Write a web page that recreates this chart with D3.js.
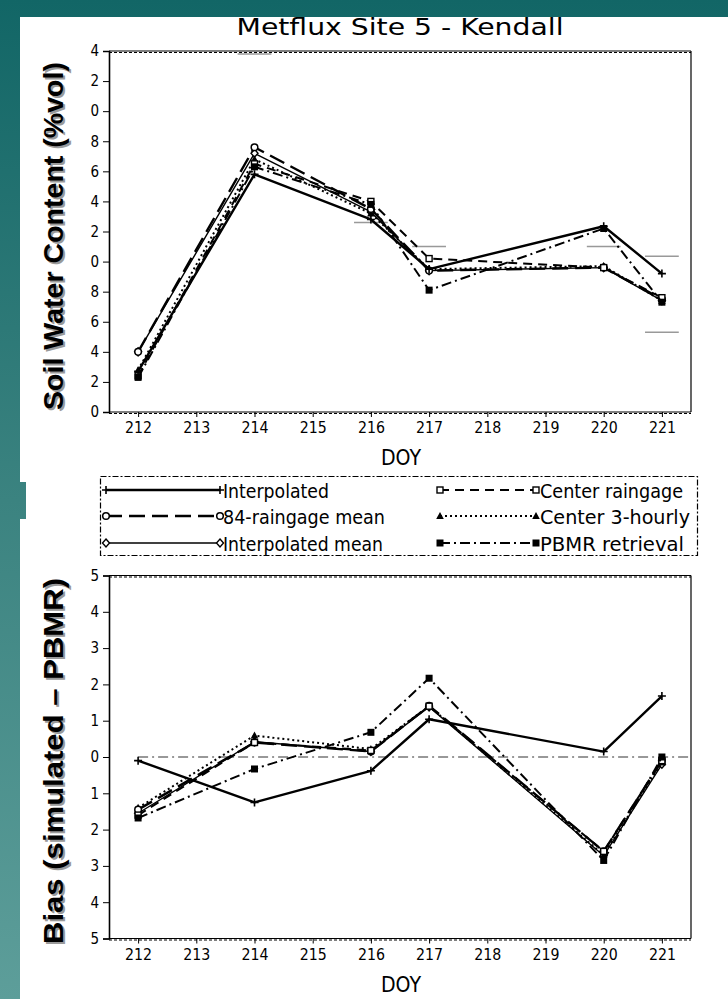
<!DOCTYPE html>
<html><head><meta charset="utf-8">
<script src="https://cdn.jsdelivr.net/npm/d3@7"></script>
<style>html,body{margin:0;padding:0;background:#fff;overflow:hidden}</style>
</head><body>
<svg id="c" width="728" height="999"></svg>
<script>
// ---------------- DATA ----------------
const days = [212, 214, 216, 217, 220, 221];
const doyTicks = [212, 213, 214, 215, 216, 217, 218, 219, 220, 221];
const seriesNames = ["Interpolated", "Center raingage", "84-raingage mean", "Center 3-hourly", "Interpolated mean", "PBMR retrieval"];

// Soil water content (%vol), top panel
const swcInterpolated     = [22.7, 35.8, 32.8, 29.5, 32.35, 29.2];
const swcCenterRaingage   = [22.4, 36.5, 34.0, 30.2, 29.6, 27.6];
const swc84RaingageMean   = [24.0, 37.6, 33.5, 29.4, 29.6, 27.5];
const swcCenter3Hourly    = [22.8, 36.8, 33.2, 29.5, 29.7, 27.4];
const swcInterpolatedMean = [24.0, 37.2, 33.3, 29.4, 29.6, 27.4];
const swcPBMR             = [22.3, 36.3, 33.8, 28.1, 32.2, 27.3];
const obsDays   = [214, 216, 217, 220, 221, 221];
const obsValues = [43.8, 32.6, 31.0, 31.0, 30.35, 25.3];
const swcTicks      = [20, 22, 24, 26, 28, 30, 32, 34, 36, 38, 40, 42, 44];
const swcTickLabels = ["0", "2", "4", "6", "8", "0", "2", "4", "6", "8", "0", "2", "4"];

// Bias (simulated - PBMR), bottom panel
const biasInterpolated     = [-0.10, -1.25, -0.38, 1.04, 0.15, 1.68];
const biasCenterRaingage   = [-1.60, 0.40, 0.18, 1.40, -2.60, -0.10];
const bias84RaingageMean   = [-1.45, 0.40, 0.15, 1.41, -2.60, -0.10];
const biasCenter3Hourly    = [-1.40, 0.59, 0.22, 1.40, -2.70, -0.15];
const biasInterpolatedMean = [-1.55, 0.42, 0.15, 1.38, -2.72, -0.20];
const biasPBMR             = [-1.68, -0.33, 0.68, 2.17, -2.85, 0.00];
const biasTicks      = [-5, -4, -3, -2, -1, 0, 1, 2, 3, 4, 5];
const biasTickLabels = ["5", "4", "3", "2", "1", "0", "1", "2", "3", "4", "5"];

// ---------------- STYLES ----------------
const styles = {
  "Interpolated":      {dash: null,         w: 2.4, m: "plus"},
  "Center raingage":   {dash: "9,6",        w: 2.0, m: "square"},
  "84-raingage mean":  {dash: "16,7",       w: 2.4, m: "circle"},
  "Center 3-hourly":   {dash: "2,3",        w: 2.0, m: "triangle"},
  "Interpolated mean": {dash: null,         w: 1.4, m: "diamond"},
  "PBMR retrieval":    {dash: "10,4,2,4",   w: 2.0, m: "fsquare"}
};
const font = "'DejaVu Sans Condensed','Liberation Sans Narrow','DejaVu Sans',sans-serif";

const svg = d3.select("#c");
const defs = svg.append("defs");
const grad = defs.append("linearGradient").attr("id", "bg").attr("gradientUnits", "userSpaceOnUse")
  .attr("x1", 0).attr("y1", 0).attr("x2", 0).attr("y2", 999);
grad.append("stop").attr("offset", 0).attr("stop-color", "#126666");
grad.append("stop").attr("offset", 0.5).attr("stop-color", "#3b8380");
grad.append("stop").attr("offset", 1).attr("stop-color", "#5d9e9a");

svg.append("rect").attr("width", 728).attr("height", 999).attr("fill", "url(#bg)");
svg.append("rect").attr("x", 20).attr("y", 17).attr("width", 708).attr("height", 982).attr("fill", "#fff");
svg.append("rect").attr("x", 20).attr("y", 482).attr("width", 6).attr("height", 37).attr("fill", "url(#bg)");

const x = d3.scaleLinear().domain([211.5, 221.5]).range([109, 691]);
const yTop = d3.scaleLinear().domain([20, 44]).range([412, 51]);
const yBot = d3.scaleLinear().domain([-5, 5]).range([938.5, 575.5]);

function marker(g, type, cx, cy) {
  const s = 3.5;
  if (type === "plus") {
    g.append("path").attr("d", `M${cx - s - 0.5},${cy}H${cx + s + 0.5}M${cx},${cy - s - 0.5}V${cy + s + 0.5}`)
      .attr("stroke", "#000").attr("stroke-width", 1.6).attr("fill", "none");
  } else if (type === "square") {
    g.append("rect").attr("x", cx - 3).attr("y", cy - 3).attr("width", 6).attr("height", 6)
      .attr("fill", "#fff").attr("stroke", "#000").attr("stroke-width", 1.4);
  } else if (type === "fsquare") {
    g.append("rect").attr("x", cx - 3.5).attr("y", cy - 3.5).attr("width", 7).attr("height", 7).attr("fill", "#000");
  } else if (type === "circle") {
    g.append("circle").attr("cx", cx).attr("cy", cy).attr("r", 3.3)
      .attr("fill", "#fff").attr("stroke", "#000").attr("stroke-width", 1.5);
  } else if (type === "triangle") {
    g.append("path").attr("d", `M${cx},${cy - 4}L${cx + 3.8},${cy + 3}L${cx - 3.8},${cy + 3}Z`).attr("fill", "#000");
  } else if (type === "diamond") {
    g.append("path").attr("d", `M${cx},${cy - 4}L${cx + 3.5},${cy}L${cx},${cy + 4}L${cx - 3.5},${cy}Z`)
      .attr("fill", "#fff").attr("stroke", "#000").attr("stroke-width", 1.4);
  }
}

function frame(y, ticks, labels) {
  const g = svg.append("g");
  const [x0, x1] = x.range();
  const [yb, yt] = y.range();
  const ax = d3.axisLeft(y).tickValues(ticks).tickFormat((d, i) => labels[i]).tickSize(6).tickPadding(4);
  const ga = g.append("g").attr("transform", `translate(${x0},0)`).call(ax);
  ga.select(".domain").attr("stroke-width", 1.6);
  ga.selectAll("text").attr("font-family", font).attr("font-size", 15).attr("fill", "#000");
  const bx = d3.axisBottom(x).tickValues(doyTicks).tickFormat(d3.format("d")).tickSize(5).tickPadding(5);
  const gb = g.append("g").attr("transform", `translate(0,${yb})`).call(bx);
  gb.select(".domain").remove();
  gb.selectAll("text").attr("font-family", font).attr("font-size", 16).attr("fill", "#000")
    .attr("textLength", 27).attr("lengthAdjust", "spacingAndGlyphs");
  g.append("line").attr("x1", x0).attr("x2", x1).attr("y1", yb).attr("y2", yb).attr("stroke", "#000").attr("stroke-width", 1.2);
  g.append("line").attr("x1", x0).attr("x2", x1).attr("y1", yb + 1.5).attr("y2", yb + 1.5).attr("stroke", "#000").attr("stroke-width", 1.2).attr("stroke-dasharray", "3,2");
  g.append("line").attr("x1", x0).attr("x2", x1).attr("y1", yt).attr("y2", yt).attr("stroke", "#000").attr("stroke-width", 1.2);
  g.append("line").attr("x1", x0).attr("x2", x1).attr("y1", yt + 1.5).attr("y2", yt + 1.5).attr("stroke", "#000").attr("stroke-width", 1.2).attr("stroke-dasharray", "3,2");
  g.append("line").attr("x1", x1).attr("x2", x1).attr("y1", yt).attr("y2", yb).attr("stroke", "#000").attr("stroke-width", 1.2);
  g.append("text").attr("x", 401).attr("y", yb + 53).attr("text-anchor", "middle")
    .attr("font-family", font).attr("font-size", 22).attr("textLength", 40).attr("lengthAdjust", "spacingAndGlyphs").text("DOY");
  return g;
}

function drawSeries(g, y, name, vals) {
  const st = styles[name];
  const line = d3.line().x((d, i) => x(days[i])).y(d => y(d));
  g.append("path").attr("d", line(vals)).attr("fill", "none").attr("stroke", "#000")
    .attr("stroke-width", st.w).attr("stroke-dasharray", st.dash).attr("stroke-linejoin", "round");
  vals.forEach((v, i) => marker(g, st.m, x(days[i]), y(v)));
}

// ---------------- TOP PANEL ----------------
svg.append("text").attr("x", 400).attr("y", 35).attr("text-anchor", "middle")
  .attr("font-family", font).attr("font-size", 23).attr("textLength", 327).attr("lengthAdjust", "spacingAndGlyphs")
  .text("Metflux Site 5 - Kendall");
frame(yTop, swcTicks, swcTickLabels);
const gt = svg.append("g");
obsDays.forEach((d, i) => {
  gt.append("line").attr("x1", x(d - 0.29)).attr("x2", x(d + 0.29)).attr("y1", yTop(obsValues[i])).attr("y2", yTop(obsValues[i]))
    .attr("stroke", "#999").attr("stroke-width", 1.5);
});
const drawOrder = ["Interpolated mean", "Center 3-hourly", "84-raingage mean", "Center raingage", "PBMR retrieval", "Interpolated"];
const topData = [swcInterpolatedMean, swcCenter3Hourly, swc84RaingageMean, swcCenterRaingage, swcPBMR, swcInterpolated];
topData.forEach((v, i) => drawSeries(gt, yTop, drawOrder[i], v));

// ---------------- LEGEND ----------------
const lg = svg.append("g");
lg.append("rect").attr("x", 100.5).attr("y", 476.5).attr("width", 597).attr("height", 79)
  .attr("fill", "#fff").attr("stroke", "#000").attr("stroke-width", 1.2).attr("stroke-dasharray", "6,2,2,2");
const legRows = [490, 516, 543];
const legCols = [{x0: 106, x1: 220, tx: 223}, {x0: 440, x1: 536, tx: 540}];
const legTextLen = {"Interpolated": 106, "84-raingage mean": 162, "Interpolated mean": 160,
  "Center raingage": 143, "Center 3-hourly": 150, "PBMR retrieval": 144};
const legOrder = [["Interpolated", 0, 0], ["84-raingage mean", 0, 1], ["Interpolated mean", 0, 2],
  ["Center raingage", 1, 0], ["Center 3-hourly", 1, 1], ["PBMR retrieval", 1, 2]];
legOrder.forEach(([name, c, r]) => {
  const st = styles[name], col = legCols[c], yy = legRows[r];
  lg.append("line").attr("x1", col.x0).attr("x2", col.x1).attr("y1", yy).attr("y2", yy)
    .attr("stroke", "#000").attr("stroke-width", st.w).attr("stroke-dasharray", st.dash);
  marker(lg, st.m, col.x0, yy);
  marker(lg, st.m, col.x1, yy);
  lg.append("text").attr("x", col.tx).attr("y", yy + 7.5).attr("font-family", font).attr("font-size", 20)
    .attr("textLength", legTextLen[name]).attr("lengthAdjust", "spacingAndGlyphs").text(name);
});

// ---------------- BOTTOM PANEL ----------------
frame(yBot, biasTicks, biasTickLabels);
const gbm = svg.append("g");
gbm.append("line").attr("x1", x(212)).attr("x2", 691).attr("y1", yBot(0)).attr("y2", yBot(0))
  .attr("stroke", "#777").attr("stroke-width", 1.3).attr("stroke-dasharray", "10,4,2,4");
const botData = [biasInterpolatedMean, biasCenter3Hourly, bias84RaingageMean, biasCenterRaingage, biasPBMR, biasInterpolated];
botData.forEach((v, i) => drawSeries(gbm, yBot, drawOrder[i], v));

// ---------------- Y TITLES ----------------
function yTitle(txt, cx, cy, len) {
  svg.append("text").attr("transform", `translate(${cx + 2},${cy + 2}) rotate(-90)`).attr("text-anchor", "middle")
    .attr("font-family", "'Liberation Sans',Arial,sans-serif").attr("font-weight", "bold").attr("font-size", 28)
    .attr("fill", "#9a9a9a").attr("textLength", len).attr("lengthAdjust", "spacingAndGlyphs").text(txt);
  svg.append("text").attr("transform", `translate(${cx},${cy}) rotate(-90)`).attr("text-anchor", "middle")
    .attr("font-family", "'Liberation Sans',Arial,sans-serif").attr("font-weight", "bold").attr("font-size", 28)
    .attr("fill", "#000").attr("textLength", len).attr("lengthAdjust", "spacingAndGlyphs").text(txt);
}
yTitle("Soil Water Content (%vol)", 63, 236, 348);
yTitle("Bias (simulated \u2013 PBMR)", 63, 761, 366);
</script>
</body></html>
